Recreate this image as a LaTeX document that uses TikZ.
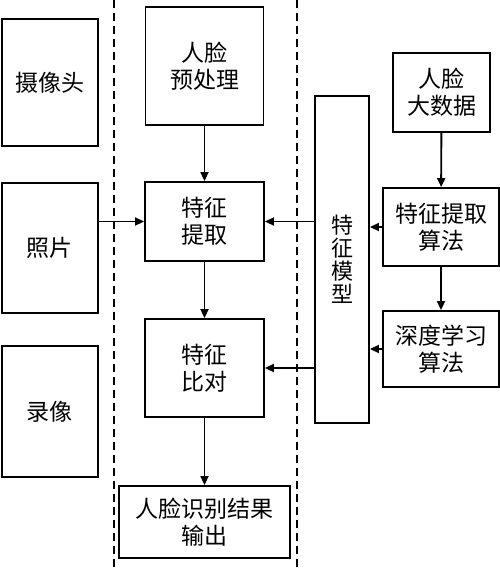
\documentclass[tikz,border=0pt]{standalone}
\usepackage{fontspec}
\newfontfamily\cjk{Noto Sans CJK SC}
\usetikzlibrary{arrows.meta}

\begin{document}
\begin{tikzpicture}[x=1pt,y=-1pt,line width=1.9pt,
    box/.style={draw,font=\cjk\fontsize{23}{27}\selectfont,align=center,inner sep=0pt}]
    \useasboundingbox (0,0) rectangle (500,568);
    \draw[dash pattern=on 8pt off 5pt] (114,0) -- (114,568) (297,0) -- (297,568);
    % inputs
    \node[box,minimum width=96pt,minimum height=127pt] (cam) at (50,82.5) {摄像头};
    \node[box,minimum width=96pt,minimum height=130pt] (photo) at (50,248) {照片};
    \node[box,minimum width=96pt,minimum height=131pt] (video) at (50,411.5) {录像};
    % middle column
    \node[box,minimum width=118pt,minimum height=118pt] (pre) at (204.5,66) {人脸\\预处理};
    \node[box,minimum width=119pt,minimum height=79pt] (ext) at (204.5,221.5) {特征\\提取};
    \node[box,minimum width=119pt,minimum height=98pt] (cmp) at (204.5,368) {特征\\比对};
    \node[box,minimum width=171pt,minimum height=72pt] (out) at (204.5,522) {人脸识别结果\\输出};
    % model and training
    \node[box,minimum width=54pt,minimum height=327pt,font=\cjk\fontsize{22}{23}\selectfont] (model) at (342,259.5) {特\\征\\模\\型};
    \node[box,minimum width=97pt,minimum height=79pt] (big) at (441.5,92.5) {人脸\\大数据};
    \node[box,minimum width=116pt,minimum height=78pt] (alg) at (441,227) {特征提取\\算法};
    \node[box,minimum width=116pt,minimum height=76pt] (deep) at (441,349) {深度学习\\算法};
    \path[-{Triangle[length=9pt,width=8pt]}]
    (pre) edge (ext)
    (ext) edge (cmp)
    (cmp) edge (out)
    (photo.east|-ext) edge (ext.west)
    (model.west|-ext) edge (ext.east)
    (model.west|-cmp) edge (cmp.east)
    (big) edge (alg)
    (alg) edge (deep)
    (alg.west) edge (alg.west-|model.east)
    (deep.west) edge (deep.west-|model.east);
\end{tikzpicture}
\end{document}
